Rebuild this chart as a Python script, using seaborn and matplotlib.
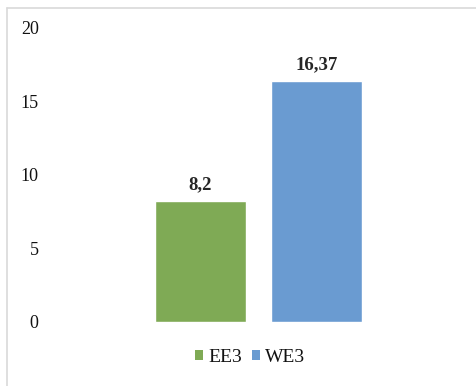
import matplotlib
matplotlib.use("Agg")
import matplotlib.pyplot as plt
from matplotlib.lines import Line2D
from matplotlib.patches import Patch
import seaborn as sns
import pandas as pd

series = ["EE3", "WE3"]
values = [8.2, 16.37]
value_labels = ["8,2", "16,37"]
colors = ["#7FAA55", "#6A9BD1"]
y_ticks = [0, 5, 10, 15, 20]

sns.set_style("white")
plt.rcParams["font.family"] = ["Liberation Serif", "DejaVu Serif"]

W, H = 476, 386
fig = plt.figure(figsize=(W / 100, H / 100), dpi=100)
ax = fig.add_axes([47 / W, (H - 322) / H, (470 - 47) / W, (322 - 28) / H])

df = pd.DataFrame({"series": series, "value": values})
sns.barplot(data=df, x="series", y="value", hue="series", palette=colors,
            width=0.784, legend=False, ax=ax, saturation=1)

ax.set_xlim(-1.323, 2.323)
ax.set_ylim(0, 20)
ax.set_yticks(y_ticks)
ax.set_yticklabels([str(t) for t in y_ticks], fontsize=13)
ax.tick_params(axis="y", length=0, pad=6, labelcolor="#111111")
ax.set_xticks([])
ax.set_xlabel("")
ax.set_ylabel("")
for s in ax.spines.values():
    s.set_visible(False)

for i, (v, lab) in enumerate(zip(values, value_labels)):
    ax.annotate(lab, (i, v), xytext=(0, 8.5), textcoords="offset points",
                ha="center", va="baseline", fontsize=13.5, fontweight="bold",
                color="#262626")

handles = [Patch(facecolor=c, edgecolor="none") for c in colors]
fig.legend(handles, series, loc="center", bbox_to_anchor=(250 / W, (H - 357) / H),
           ncol=2, frameon=False, fontsize=14, handlelength=0.42,
           handleheight=0.42, handletextpad=0.25, columnspacing=0.5,
           borderpad=0, labelcolor="#111111")

# outer frame (top and left edges)
fig.add_artist(Line2D([7 / W, 1], [(H - 8) / H, (H - 8) / H], color="#D9D9D9", lw=1.2,
                      transform=fig.transFigure))
fig.add_artist(Line2D([7 / W, 7 / W], [0, (H - 8) / H], color="#D9D9D9", lw=1.2,
                      transform=fig.transFigure))

fig.savefig("out.png", dpi=100, facecolor="white")
